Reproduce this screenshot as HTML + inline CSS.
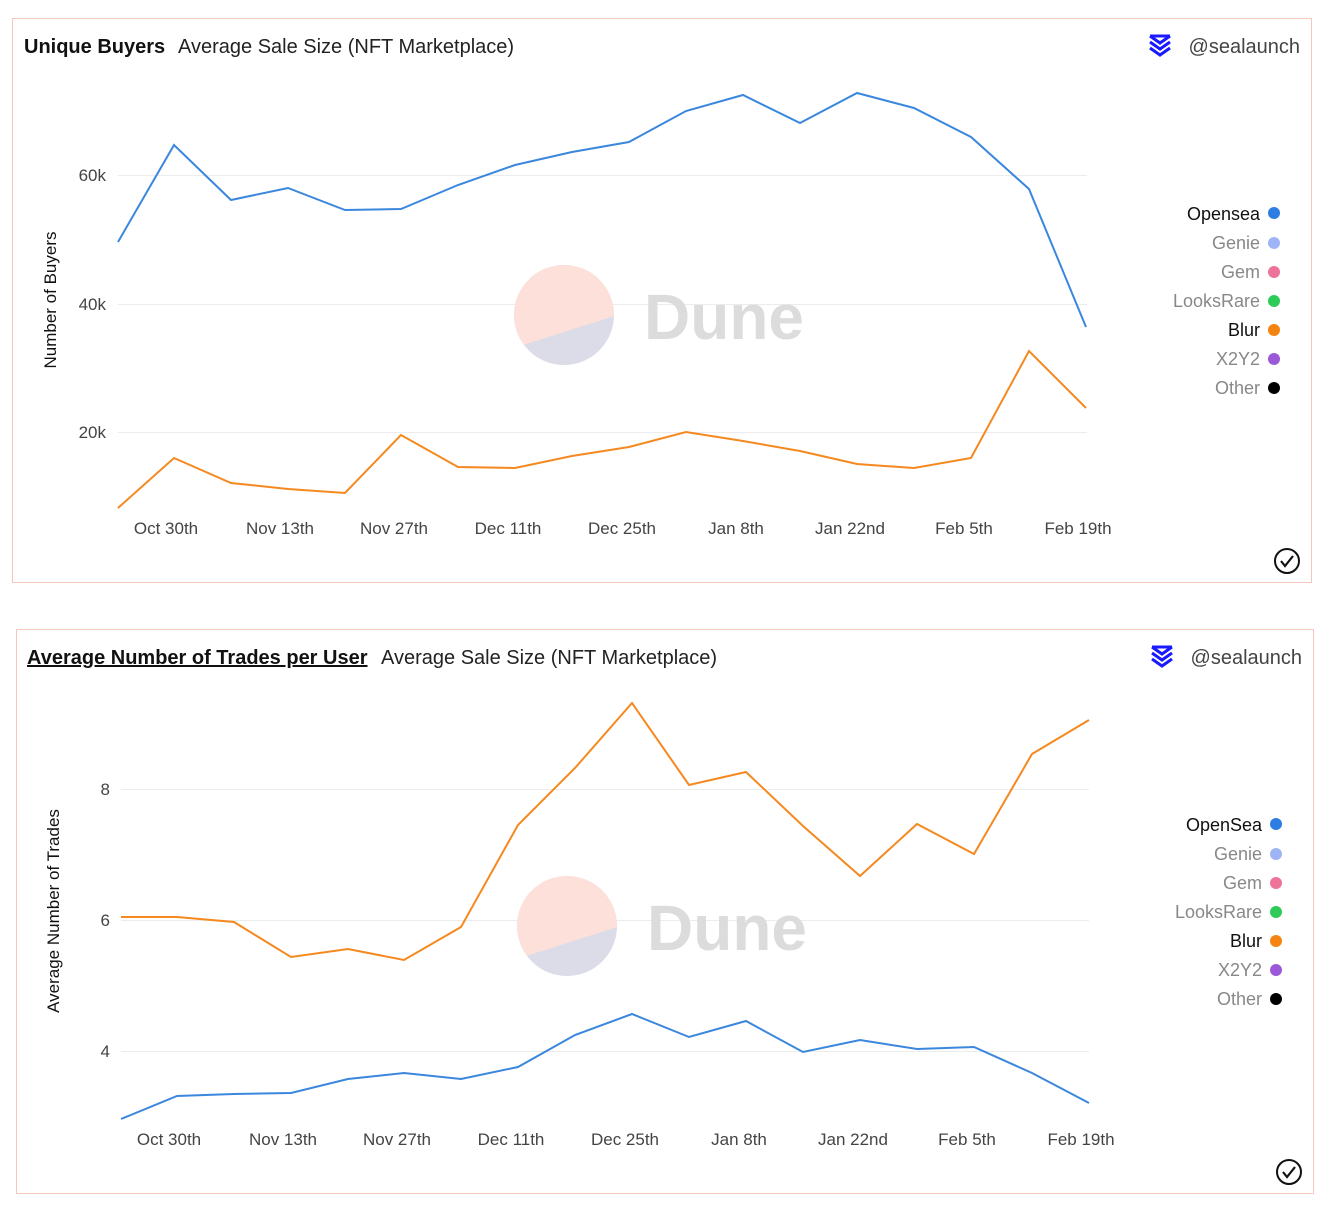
<!DOCTYPE html>
<html><head><meta charset="utf-8"><style>
html,body{margin:0;padding:0;background:#fff;}
svg{display:block;font-family:"Liberation Sans",sans-serif;}
</style></head><body>
<svg width="1332" height="1210" viewBox="0 0 1332 1210" xmlns="http://www.w3.org/2000/svg">
<defs>
<g id="wm">
  <clipPath id="cc"><circle cx="0" cy="0" r="50"/></clipPath>
  <g clip-path="url(#cc)">
    <rect x="-60" y="-60" width="120" height="120" fill="#dcdbe8"/>
    <polygon points="-60,-60 60,-60 60,-2 -60,36" fill="#fde0da"/>
  </g>
  <text x="80" y="24" font-size="64" font-weight="bold" fill="#dcdcdc">Dune</text>
</g>
<g id="logo">
  <path d="M0,0 L20,0 M0,0 L10,7 L20,0 M0,6 L10,13 L20,6 M0,12 L10,19 L20,12" stroke="#1a1aff" stroke-width="3" fill="none"/>
</g>
<g id="check">
  <circle cx="0" cy="0" r="12" fill="none" stroke="#111" stroke-width="2"/>
  <path d="M-6,0 L-2,5 L6,-5" fill="none" stroke="#111" stroke-width="2.2"/>
</g>
</defs>

<!-- Chart 1 -->
<rect x="12.5" y="18.5" width="1299" height="564" fill="#fff" stroke="#f5c6bd"/>
<text x="24" y="53" font-size="20" font-weight="bold" fill="#111">Unique Buyers</text>
<text x="178" y="53" font-size="20" fill="#222">Average Sale Size (NFT Marketplace)</text>
<use href="#logo" x="1150" y="36"/>
<text x="1300" y="53" font-size="20" fill="#444" text-anchor="end">@sealaunch</text>
<g stroke="#ececec" stroke-width="1">
<line x1="118" y1="175.5" x2="1087" y2="175.5"/><line x1="118" y1="304.5" x2="1087" y2="304.5"/><line x1="118" y1="432.5" x2="1087" y2="432.5"/>
</g>
<g font-size="17" fill="#444" text-anchor="end">
<text x="106" y="181">60k</text><text x="106" y="310">40k</text><text x="106" y="438">20k</text>
</g>
<text transform="translate(56,300) rotate(-90)" font-size="17" fill="#111" text-anchor="middle">Number of Buyers</text>
<use href="#wm" x="564" y="315"/>
<polyline fill="none" stroke="#3a87dd" stroke-width="2" points="118,242 174,145 231,200 288,188 345,210 401,209 458,185 515,165 572,152 629,142 686,111 743,95 800,123 857,93 914,108 971,137 1029,189 1086,327"/>
<polyline fill="none" stroke="#f5891f" stroke-width="2" points="118,508 174,458 231,483 288,489 345,493 401,435 458,467 515,468 572,456 629,447 686,432 743,441 800,451 857,464 914,468 971,458 1029,351 1086,408"/>
<g font-size="17" fill="#444" text-anchor="middle">
<text x="166" y="534">Oct 30th</text><text x="280" y="534">Nov 13th</text><text x="394" y="534">Nov 27th</text><text x="508" y="534">Dec 11th</text><text x="622" y="534">Dec 25th</text><text x="736" y="534">Jan 8th</text><text x="850" y="534">Jan 22nd</text><text x="964" y="534">Feb 5th</text><text x="1078" y="534">Feb 19th</text>
</g>
<g font-size="18" text-anchor="end">
<text x="1260" y="220" fill="#111">Opensea</text><circle cx="1274" cy="213" r="6" fill="#2f7de1"/>
<text x="1260" y="249" fill="#888">Genie</text><circle cx="1274" cy="243" r="6" fill="#9fb4f6"/>
<text x="1260" y="278" fill="#888">Gem</text><circle cx="1274" cy="272" r="6" fill="#ee7399"/>
<text x="1260" y="307" fill="#888">LooksRare</text><circle cx="1274" cy="301" r="6" fill="#2ecb59"/>
<text x="1260" y="336" fill="#111">Blur</text><circle cx="1274" cy="330" r="6" fill="#f5830f"/>
<text x="1260" y="365" fill="#888">X2Y2</text><circle cx="1274" cy="359" r="6" fill="#9b59d8"/>
<text x="1260" y="394" fill="#888">Other</text><circle cx="1274" cy="388" r="6" fill="#000"/>
</g>
<use href="#check" x="1287" y="561"/>

<!-- Chart 2 -->
<rect x="16.5" y="629.5" width="1297" height="564" fill="#fff" stroke="#f5c6bd"/>
<text x="27" y="664" font-size="20" font-weight="bold" fill="#111" text-decoration="underline">Average Number of Trades per User</text>
<text x="381" y="664" font-size="20" fill="#222">Average Sale Size (NFT Marketplace)</text>
<use href="#logo" x="1152" y="647"/>
<text x="1302" y="664" font-size="20" fill="#444" text-anchor="end">@sealaunch</text>
<g stroke="#ececec" stroke-width="1">
<line x1="121" y1="789.5" x2="1089" y2="789.5"/><line x1="121" y1="920.5" x2="1089" y2="920.5"/><line x1="121" y1="1051.5" x2="1089" y2="1051.5"/>
</g>
<g font-size="17" fill="#444" text-anchor="end">
<text x="110" y="795">8</text><text x="110" y="926">6</text><text x="110" y="1057">4</text>
</g>
<text transform="translate(59,911) rotate(-90)" font-size="17" fill="#111" text-anchor="middle">Average Number of Trades</text>
<use href="#wm" x="567" y="926"/>
<polyline fill="none" stroke="#3a87dd" stroke-width="2" points="121,1119 177,1096 234,1094 291,1093 348,1079 404,1073 461,1079 518,1067 575,1035 632,1014 689,1037 746,1021 803,1052 860,1040 917,1049 974,1047 1032,1073 1089,1103"/>
<polyline fill="none" stroke="#f5891f" stroke-width="2" points="121,917 177,917 234,922 291,957 348,949 404,960 461,927 518,825 575,768 632,703 689,785 746,772 803,826 860,876 917,824 974,854 1032,754 1089,720"/>
<g font-size="17" fill="#444" text-anchor="middle">
<text x="169" y="1145">Oct 30th</text><text x="283" y="1145">Nov 13th</text><text x="397" y="1145">Nov 27th</text><text x="511" y="1145">Dec 11th</text><text x="625" y="1145">Dec 25th</text><text x="739" y="1145">Jan 8th</text><text x="853" y="1145">Jan 22nd</text><text x="967" y="1145">Feb 5th</text><text x="1081" y="1145">Feb 19th</text>
</g>
<g font-size="18" text-anchor="end">
<text x="1262" y="831" fill="#111">OpenSea</text><circle cx="1276" cy="824" r="6" fill="#2f7de1"/>
<text x="1262" y="860" fill="#888">Genie</text><circle cx="1276" cy="854" r="6" fill="#9fb4f6"/>
<text x="1262" y="889" fill="#888">Gem</text><circle cx="1276" cy="883" r="6" fill="#ee7399"/>
<text x="1262" y="918" fill="#888">LooksRare</text><circle cx="1276" cy="912" r="6" fill="#2ecb59"/>
<text x="1262" y="947" fill="#111">Blur</text><circle cx="1276" cy="941" r="6" fill="#f5830f"/>
<text x="1262" y="976" fill="#888">X2Y2</text><circle cx="1276" cy="970" r="6" fill="#9b59d8"/>
<text x="1262" y="1005" fill="#888">Other</text><circle cx="1276" cy="999" r="6" fill="#000"/>
</g>
<use href="#check" x="1289" y="1172"/>
</svg>
</body></html>
